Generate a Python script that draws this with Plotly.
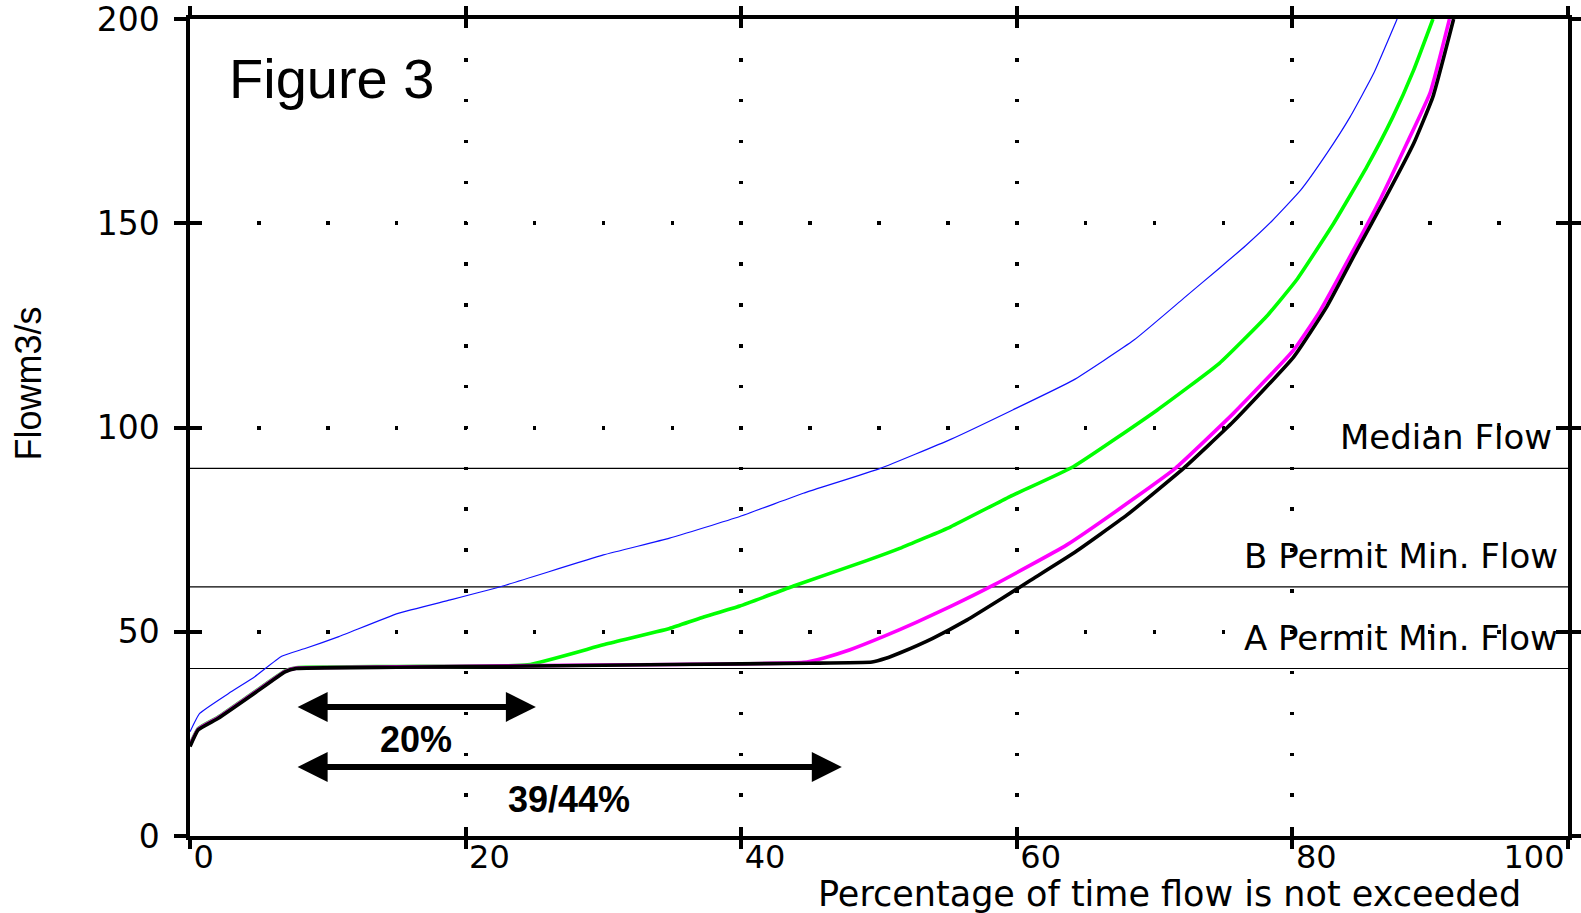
import plotly.graph_objects as go

# ---------------- data ----------------
pct_blue = [0, 0.7, 2.8, 4.7, 6.65, 8.35, 10.8, 15.1, 18.9, 22.7, 30, 34.8, 39.9, 44.5,
            50.1, 55.2, 59.7, 64.1, 68.5, 72.1, 74.7, 76.6, 78.5, 80.6, 82.5, 84.2, 85.9, 87.6]
flow_blue = [25.5, 30, 34.9, 39, 44, 45.9, 48.8, 54.5, 57.8, 61.2, 68.8, 72.9, 78.2, 83.9,
             90, 97.1, 104.3, 111.6, 121.4, 131.6, 139, 144.5, 150.5, 158.1, 167.1, 176.1, 186.7, 200]

pct_green = [0, 0.6, 2.05, 4.5, 6.9, 7.7, 15, 24.5, 30, 34.8, 37, 39.9, 43.8, 49.1, 51.5,
             55.2, 59.5, 64.1, 70.2, 74.7, 78.1, 80.3, 83, 85.4, 87.3, 88.8, 90.2]
flow_green = [22.4, 26.3, 29.1, 34.8, 40.4, 41.2, 41.5, 41.9, 46.8, 50.8, 53.3, 56.3, 61.2, 67.4, 70.4,
              75.7, 83.1, 90.4, 104.3, 115.7, 127.1, 136.1, 150, 163.8, 176.1, 187.5, 200]

pct_magenta = [0, 0.6, 2.05, 4.5, 6.9, 7.7, 15, 25, 35, 44.5, 46, 47.9, 50.3, 52.7, 55.2, 58.3,
               63.6, 68.5, 71.5, 75.7, 80.1, 82, 84.2, 86.4, 88.3, 90, 91.4]
flow_magenta = [22.2, 26.2, 29.0, 34.7, 40.3, 41.1, 41.4, 41.7, 42.0, 42.5, 43.6, 45.6, 48.8, 52.3, 56.2, 61.4,
                71.2, 82.6, 90, 103.4, 119, 128.5, 142, 156, 169.5, 182, 200]

pct_black = [0, 0.6, 2.05, 4.5, 6.9, 7.7, 15, 25, 35, 45, 49.5, 50.5, 51.5, 53.9, 56.4, 58.8,
             61, 64.1, 68, 72.1, 75.7, 80.1, 82.5, 84.7, 86.8, 88.8, 90.2, 91.7]
flow_black = [21.9, 26, 28.8, 34.5, 40.2, 41.0, 41.3, 41.6, 42.0, 42.3, 42.6, 43.5, 44.8, 48.4, 52.9, 57.9,
              62.6, 69.2, 78.6, 90, 101.4, 117.3, 129.6, 143.5, 156.5, 169.5, 181, 200]

threshold_flows = [90, 61, 41]
threshold_labels = ["Median Flow", "B Permit Min. Flow", "A Permit Min. Flow"]
threshold_label_pct = [99.0, 99.45, 99.45]

span_start = [7.7, 7.7]
span_end = [25.1, 47.3]
span_flow = [31.6, 16.9]
span_labels = ["20%", "39/44%"]

x_ticks = [0, 20, 40, 60, 80, 100]
x_tick_text = ["0", "20", "40", "60", "80", ""]
y_ticks = [0, 50, 100, 150, 200]
y_tick_text = ["0", "50", "100", "150", "200"]

# ---------------- figure ----------------
fig = go.Figure()

for v in threshold_flows:
    fig.add_trace(go.Scatter(x=[0, 100], y=[v, v], mode="lines",
                             line=dict(color="black", width=1.2),
                             hoverinfo="skip", showlegend=False))

curve_line = dict(shape="spline", smoothing=0.4)
fig.add_trace(go.Scatter(x=pct_blue, y=flow_blue, mode="lines",
                         line=dict(color="#1010ff", width=1.2, **curve_line), showlegend=False))
fig.add_trace(go.Scatter(x=pct_green, y=flow_green, mode="lines",
                         line=dict(color="#00ff00", width=3.6, **curve_line), showlegend=False))
fig.add_trace(go.Scatter(x=pct_magenta, y=flow_magenta, mode="lines",
                         line=dict(color="#ff00ff", width=3.6, **curve_line), showlegend=False))
fig.add_trace(go.Scatter(x=pct_black, y=flow_black, mode="lines",
                         line=dict(color="black", width=3.6, **curve_line), showlegend=False))

# helper (empty) traces so that overlay axes are drawn
fig.add_trace(go.Scatter(x=[], y=[], xaxis="x2", yaxis="y2", showlegend=False))
fig.add_trace(go.Scatter(x=[], y=[], xaxis="x3", yaxis="y", showlegend=False))

x_tick_font = dict(family="DejaVu Sans", size=32, color="black")

fig.update_layout(
    width=1581, height=913,
    margin=dict(l=190, r=13, t=19, b=77),
    paper_bgcolor="white", plot_bgcolor="white",
    xaxis=dict(range=[0, 100], tickvals=x_ticks, ticktext=x_tick_text,
               ticks="outside", ticklen=9, tickwidth=3.5, tickcolor="black",
               showline=True, linewidth=3.5, linecolor="black", mirror="allticks",
               showgrid=True, gridcolor="black", gridwidth=3.5,
               griddash="1.75px,37.35px,1.75px,0px",
               zeroline=False, ticklabelposition="outside right",
               ticklabelstandoff=-10, ticklabeloverflow="allow",
               tickfont=x_tick_font, automargin=False),
    xaxis2=dict(range=[0, 100], overlaying="x", side="bottom", tickvals=x_ticks,
                ticks="inside", ticklen=9, tickwidth=3.5, tickcolor="black",
                showline=True, linewidth=3.5, linecolor="black", mirror="allticks",
                showticklabels=False, showgrid=False, zeroline=False, automargin=False),
    xaxis3=dict(range=[0, 100], overlaying="x", side="bottom", tickvals=[100], ticktext=["100"],
                ticks="outside", ticklen=9, tickwidth=3.5, tickcolor="rgba(0,0,0,0)",
                showline=True, linewidth=3.5, linecolor="rgba(0,0,0,0)",
                showgrid=False, zeroline=False,
                ticklabelposition="outside left", ticklabelstandoff=-10,
                ticklabeloverflow="allow",
                tickfont=x_tick_font, automargin=False),
    yaxis=dict(range=[0, 200], tickvals=y_ticks, ticktext=y_tick_text,
               ticks="outside", ticklen=12, tickwidth=3.5, tickcolor="black",
               showline=True, linewidth=3.5, linecolor="black", mirror="allticks",
               showgrid=True, gridcolor="black", gridwidth=3.5,
               griddash="1.75px,65.4px,1.75px,0px",
               zeroline=False, tickfont=dict(family="DejaVu Sans", size=33, color="black"),
               ticklabelstandoff=8, ticklabeloverflow="allow",
               automargin=False),
    yaxis2=dict(range=[0, 200], overlaying="y", side="left", tickvals=y_ticks,
                ticks="inside", ticklen=12, tickwidth=3.5, tickcolor="black",
                showline=True, linewidth=3.5, linecolor="black", mirror="allticks",
                showticklabels=False, showgrid=False, zeroline=False, automargin=False),
)

annotations = []

# figure label
annotations.append(dict(x=2.7, y=185.5, xref="x", yref="y", text="Figure 3", showarrow=False,
                        xanchor="left", yanchor="middle",
                        font=dict(family="Liberation Sans Narrow, Arial Narrow, Liberation Sans, sans-serif",
                                  size=56, color="black")))

# threshold labels
for v, lab, px in zip(threshold_flows, threshold_labels, threshold_label_pct):
    annotations.append(dict(x=px, y=v, xref="x", yref="y", text=lab, showarrow=False,
                            xanchor="right", yanchor="middle", yshift=31,
                            font=dict(family="DejaVu Sans", size=34, color="black")))

# duration spans (double arrows) and their labels
for s, e, f, lab in zip(span_start, span_end, span_flow, span_labels):
    annotations.append(dict(x=e, y=f, ax=s, ay=f, xref="x", yref="y", axref="x", ayref="y",
                            text="", showarrow=True, arrowhead=2, startarrowhead=2,
                            arrowside="end+start", arrowsize=1, startarrowsize=1,
                            arrowwidth=6, arrowcolor="black", standoff=0, startstandoff=0))
    annotations.append(dict(x=(s + e) / 2, y=f, xref="x", yref="y", text=lab, showarrow=False,
                            xanchor="center", yanchor="middle", yshift=-33,
                            font=dict(family="Liberation Sans", size=36, color="black",
                                      weight="bold")))

# axis titles
annotations.append(dict(x=71.05, y=-0.0710, xref="x", yref="paper",
                        text="Percentage of time flow is not exceeded", showarrow=False,
                        xanchor="center", yanchor="middle",
                        font=dict(family="DejaVu Sans", size=35, color="black")))
annotations.append(dict(x=-0.1172, y=0.5545, xref="paper", yref="paper",
                        text="Flowm3/s", showarrow=False, textangle=-90,
                        xanchor="center", yanchor="middle",
                        font=dict(family="Liberation Sans", size=36, color="black")))

fig.update_layout(annotations=annotations)

fig.write_html("out.html")
